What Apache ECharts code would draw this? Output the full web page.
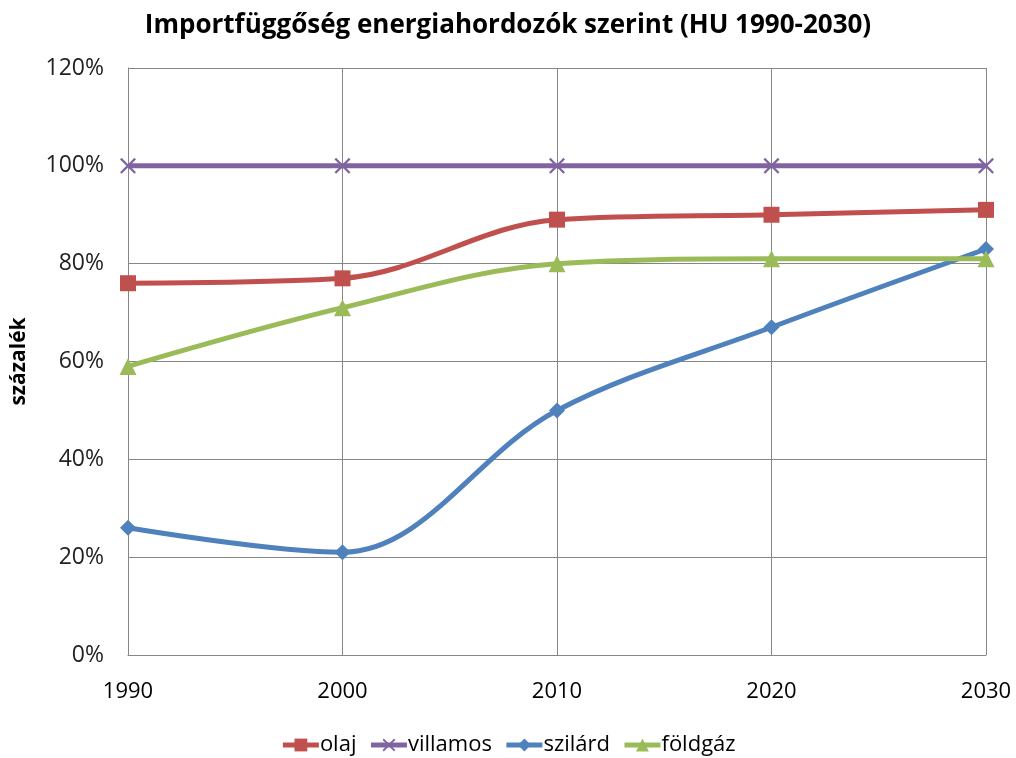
<!DOCTYPE html>
<html>
<head>
<meta charset="utf-8">
<script src="https://cdn.jsdelivr.net/npm/echarts@6/dist/echarts.min.js"></script>
<style>
  html, body { margin: 0; padding: 0; background: #fff; }
  #main { width: 1016px; height: 758px; }
</style>
</head>
<body>
<div id="main"></div>
<script>
let years = ['1990', '2000', '2010', '2020', '2030']
let olaj = [76, 77, 89, 90, 91]
let villamos = [100, 100, 100, 100, 100]
let szilard = [26, 21, 50, 67, 83]
let foldgaz = [59, 71, 80, 81, 81]

let font = '"Open Sans", "Noto Sans", sans-serif'
// thin X cross as a filled path
let xSymbol = 'path://M0,1L1,0L5,4L9,0L10,1L6,5L10,9L9,10L5,6L1,10L0,9L4,5Z'

let myChart = echarts.init(document.getElementById('main'))

function line (name, data, color, symbol, size) {
    return {
        name: name,
        type: 'line',
        data: data,
        smooth: 0.35,
        symbol: symbol,
        symbolSize: size,
        showSymbol: true,
        lineStyle: { color: color, width: 5 },
        itemStyle: { color: color },
        emphasis: { disabled: true },
    }
}

let option = {
    backgroundColor: '#ffffff',
    animation: false,
    title: {
        text: 'Importfüggőség energiahordozók szerint (HU 1990-2030)',
        left: 'center',
        top: 8,
        textStyle: { fontFamily: font, fontSize: 26, fontWeight: 'bold', color: '#000' },
    },
    grid: { left: 128, right: 30, top: 68, bottom: 103 },
    legend: {
        bottom: -3,
        left: 'center',
        itemWidth: 36,
        itemHeight: 16,
        itemGap: 12,
        lineStyle: { width: 5 },
        textStyle: { fontFamily: font, fontSize: 22, color: '#000', padding: [0, 0, 0, -4] },
        data: ['olaj', 'villamos', 'szilárd', 'földgáz'],
    },
    xAxis: {
        type: 'category',
        boundaryGap: false,
        data: years,
        axisLine: { lineStyle: { color: '#868686', width: 1 } },
        axisTick: { show: false },
        axisLabel: { fontFamily: font, fontSize: 22, color: '#000', margin: 26 },
        splitLine: { show: true, lineStyle: { color: '#868686', width: 1 } },
    },
    yAxis: {
        type: 'value',
        min: 0,
        max: 120,
        interval: 20,
        name: 'százalék',
        nameLocation: 'middle',
        nameGap: 98,
        nameTextStyle: { fontFamily: font, fontSize: 21, fontWeight: 'bold', color: '#000' },
        axisLine: { show: true, lineStyle: { color: '#868686', width: 1 } },
        axisTick: { show: false },
        axisLabel: { fontFamily: font, fontSize: 23, color: '#222', margin: 24, formatter: '{value}%' },
        splitLine: { show: true, lineStyle: { color: '#868686', width: 1 } },
    },
    series: [
        line('olaj', olaj, '#C0504D', 'rect', 16),
        line('villamos', villamos, '#8064A2', xSymbol, 16),
        line('szilárd', szilard, '#4F81BD', 'diamond', 16),
        line('földgáz', foldgaz, '#9BBB59', 'triangle', 17),
    ],
}
myChart.setOption(option)
</script>
</body>
</html>
